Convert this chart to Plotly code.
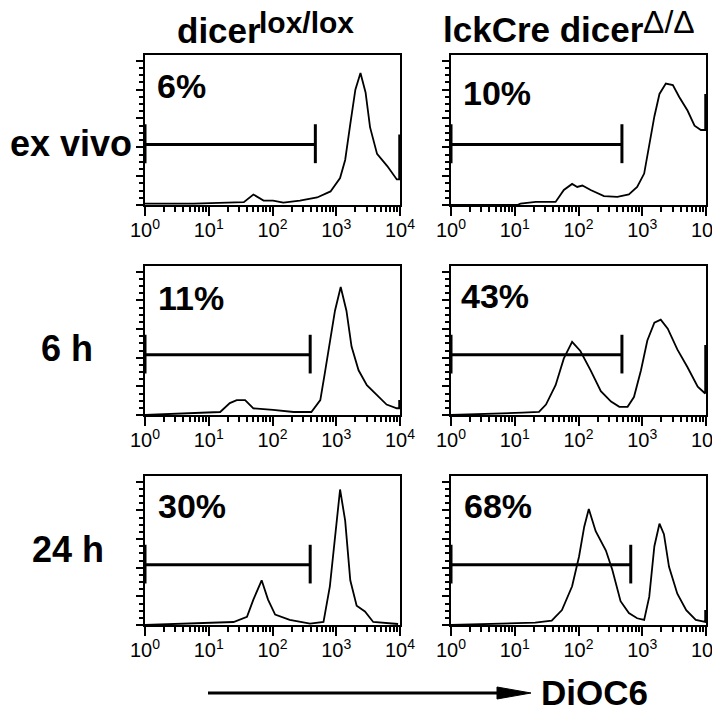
import plotly.graph_objects as go

# page body has an 8px margin, so all pixel targets are offset by that margin
OFF = 8
W, H = 720, 707 - OFF

# ---------------- data (DiOC6 intensity vs. relative count) ----------------
p1_x = [1, 5.8, 35.5, 50.1, 72.4, 102, 148, 269, 501, 813, 1148, 1380, 1660, 1995, 2399, 2884, 3388, 4365, 6310, 8913, 9700, 9700]
p1_y = [1, 1, 2, 7.3, 3.1, 3.1, 1.6, 3.1, 5.2, 9.4, 18.7, 31.2, 56, 80, 91.5, 78, 54, 35.4, 27, 17.7, 17.7, 48.9]

p2_x = [1, 11, 12.3, 21.4, 43.7, 58.9, 79.4, 95.5, 115, 155, 251, 407, 617, 832, 1072, 1288, 1549, 1862, 2344, 3020, 3802, 5129, 6607, 8318, 9700, 9700]
p2_y = [0, 0, 1, 2.1, 2.1, 10.4, 14.6, 12.5, 13.5, 10.4, 6.2, 5.7, 7.3, 12.5, 21.8, 42.6, 61.4, 77, 84.2, 83.2, 74.9, 65.5, 55, 52, 52, 77]

p3_x = [1, 3.5, 5.8, 15.1, 21.4, 27.5, 37.2, 50.1, 102, 214, 407, 562, 661, 794, 955, 1175, 1445, 1738, 2239, 3020, 4365, 6166, 8913, 9700, 9700]
p3_y = [0, 1, 1.6, 2.1, 8.3, 10.4, 10.4, 4.7, 3.6, 2.1, 2.1, 10.4, 29, 50, 72.8, 89.4, 72.8, 47.8, 31.2, 20.8, 13.5, 7.3, 4.7, 4.7, 10.4]

p4_x = [1, 8.5, 13.2, 24, 30.9, 43.7, 58.9, 79.4, 107, 155, 224, 324, 437, 589, 741, 955, 1202, 1549, 1950, 2512, 3548, 5129, 7413, 9700, 9700]
p4_y = [0, 1, 1.6, 2.1, 7.3, 20.8, 39.5, 51, 44.7, 31.2, 16.6, 9.4, 5.7, 5.7, 12.5, 31.2, 52, 64.5, 66.6, 60.3, 45.8, 33.3, 19.8, 15, 48.9]

p5_x = [1, 9.8, 24.5, 39.8, 50.1, 67.6, 85.1, 110, 186, 389, 631, 794, 955, 1148, 1380, 1660, 2089, 2818, 3802, 9333]
p5_y = [0, 1.6, 2.1, 5.7, 17.7, 31.2, 17.7, 7.3, 3.6, 1, 2.1, 27, 61.4, 94.6, 72.8, 31.2, 13.5, 9.4, 2.1, 0.7]

p6_x = [1, 14.8, 20.9, 38, 55, 79.4, 102, 123, 145, 186, 269, 339, 457, 617, 832, 1072, 1288, 1549, 1862, 2188, 2630, 3548, 4898, 6918, 9333, 9700, 9700]
p6_y = [0, 1, 1.6, 3.1, 10.4, 27, 47.8, 68.6, 81, 65.5, 52, 38.5, 16.6, 8.3, 4.7, 3.6, 19.8, 55, 70.7, 63.4, 40.6, 21.8, 10.4, 3.6, 2.1, 2.1, 10.4]

gate_end = [470, 480, 390, 480, 390, 660]
gate_level = 42
gate_bar = [29, 56]
percent_labels = ["6%", "10%", "11%", "43%", "30%", "68%"]
row_labels = ["ex vivo", "6 h", "24 h"]
tick_vals = [1, 10, 100, 1000, 10000]
tick_text = ["10<sup>0</sup>", "10<sup>1</sup>", "10<sup>2</sup>", "10<sup>3</sup>", "10<sup>4</sup>"]
minor_vals = [m * d for d in (1, 10, 100, 1000) for m in range(2, 10)]

series = [(p1_x, p1_y), (p2_x, p2_y), (p3_x, p3_y), (p4_x, p4_y), (p5_x, p5_y), (p6_x, p6_y)]

# ---------------- layout geometry (target pixels in the 720x707 page) ----------------
col_px = [(145, 400), (451, 706)]
row_px = [(55, 205), (266, 415), (476, 625)]

def px_x(x):
    return (x - OFF) / W

def px_y(y):
    return 1 - (y - OFF) / H

FONT = "Liberation Sans, Arial, sans-serif"
fig = go.Figure()
layout = dict(width=W, height=H, margin=dict(l=0, r=0, t=0, b=0, pad=0, autoexpand=False),
              paper_bgcolor="white", plot_bgcolor="white", showlegend=False)
annotations = []

for i, (xs, ys) in enumerate(series):
    r, c = divmod(i, 2)
    k = i + 1
    xa = "x" if k == 1 else f"x{k}"
    ya = "y" if k == 1 else f"y{k}"
    fig.add_trace(go.Scatter(x=xs, y=ys, mode="lines", xaxis=xa, yaxis=ya,
                             line=dict(color="black", width=1.8), hoverinfo="skip"))
    g = gate_end[i]
    fig.add_trace(go.Scatter(x=[1, 1, None, 1, g, None, g, g],
                             y=[gate_bar[0], gate_bar[1], None, gate_level, gate_level, None, gate_bar[0], gate_bar[1]],
                             mode="lines", xaxis=xa, yaxis=ya,
                             line=dict(color="black", width=3), hoverinfo="skip"))
    x0, x1 = col_px[c]
    y0, y1 = row_px[r]
    xax = dict(
        domain=[px_x(x0), px_x(x1)], anchor=ya, type="log", range=[0, 4], automargin=False,
        showgrid=False, zeroline=False, showline=True, linecolor="black", linewidth=2, mirror=True,
        ticks="outside", ticklen=9, tickwidth=2, tickcolor="black",
        tickvals=tick_vals, ticktext=tick_text, ticklabelstandoff=-3,
        tickfont=dict(family=FONT, size=20, color="black"),
        minor=dict(ticks="outside", ticklen=5, tickwidth=1.5, tickcolor="black", tickvals=minor_vals, showgrid=False),
        fixedrange=True)
    if c == 0:
        xax["ticklabeloverflow"] = "allow"
    layout[f"xaxis{'' if k == 1 else k}"] = xax
    layout[f"yaxis{'' if k == 1 else k}"] = dict(
        domain=[px_y(y1), px_y(y0)], anchor=xa, range=[0, 104], automargin=False,
        showgrid=False, zeroline=False, showline=True, linecolor="black", linewidth=2, mirror=True,
        ticks="outside", ticklen=7, tickwidth=2, tickcolor="black", tickvals=[0, 20, 40, 60, 80, 100],
        showticklabels=False,
        minor=dict(ticks="outside", ticklen=4, tickwidth=1.5, tickcolor="black", dtick=5, showgrid=False),
        fixedrange=True)

# percentage labels
pct_pos = [(155, 86), (461, 93), (156, 298), (459, 296), (156, 506), (462, 506)]
for (px, py), t in zip(pct_pos, percent_labels):
    annotations.append(dict(x=px_x(px), y=px_y(py), xref="paper", yref="paper", text=t,
                            showarrow=False, xanchor="left", yanchor="middle",
                            font=dict(family=FONT, size=34, color="black", weight="bold")))

# row labels
for (px, py), t in zip([(71, 144), (67, 348), (68, 549)], row_labels):
    annotations.append(dict(x=px_x(px), y=px_y(py), xref="paper", yref="paper", text=t,
                            showarrow=False, xanchor="center", yanchor="middle",
                            font=dict(family=FONT, size=36, color="black", weight="bold")))

# column titles
annotations.append(dict(x=px_x(175), y=px_y(30), xref="paper", yref="paper", text="dicer",
                        showarrow=False, xanchor="left", yanchor="middle",
                        font=dict(family=FONT, size=35, color="black", weight="bold")))
annotations.append(dict(x=px_x(257), y=px_y(22), xref="paper", yref="paper", text="lox/lox",
                        showarrow=False, xanchor="left", yanchor="middle",
                        font=dict(family=FONT, size=30, color="black", weight="bold")))
annotations.append(dict(x=px_x(441), y=px_y(29), xref="paper", yref="paper", text="lckCre dicer",
                        showarrow=False, xanchor="left", yanchor="middle",
                        font=dict(family=FONT, size=35, color="black", weight="bold")))
annotations.append(dict(x=px_x(641), y=px_y(22), xref="paper", yref="paper", text="Δ/Δ",
                        showarrow=False, xanchor="left", yanchor="middle",
                        font=dict(family=FONT, size=32, color="black")))

# axis caption
annotations.append(dict(x=px_x(539), y=px_y(692), xref="paper", yref="paper", text="DiOC6",
                        showarrow=False, xanchor="left", yanchor="middle",
                        font=dict(family=FONT, size=35, color="black", weight="bold")))

shapes = [
    dict(type="line", xref="paper", yref="paper", x0=px_x(208), x1=px_x(505), y0=px_y(693), y1=px_y(693),
         line=dict(color="black", width=3)),
    dict(type="path", xref="paper", yref="paper",
         path=f"M {px_x(497)},{px_y(687)} L {px_x(531)},{px_y(693)} L {px_x(497)},{px_y(699)} Z",
         fillcolor="black", line=dict(color="black", width=1)),
]

layout["annotations"] = annotations
layout["shapes"] = shapes
fig.update_layout(**layout)
fig.write_html("out.html")
